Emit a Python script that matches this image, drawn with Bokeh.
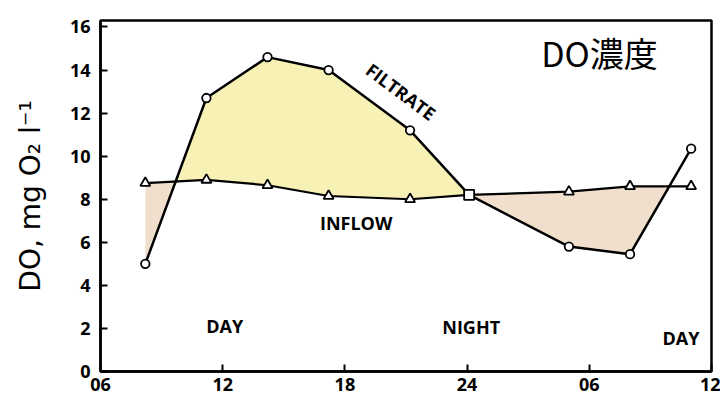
import numpy as np
from bokeh.plotting import figure
from bokeh.models import Range1d, FixedTicker, Label
from bokeh.embed import file_html
from bokeh.resources import INLINE

# ---- data ----
hours = [8.2, 11.2, 14.2, 17.2, 21.2, 24.1, 29.0, 32.0, 35.0]
filtrate = [5.0, 12.7, 14.6, 14.0, 11.2, 8.2, 5.8, 5.45, 10.35]
inflow = [8.75, 8.9, 8.65, 8.15, 8.0, 8.2, 8.35, 8.6, 8.6]
filtrate_markers = ["circle"] * 5 + ["square"] + ["circle"] * 3
inflow_markers = ["triangle"] * 5 + ["square"] + ["triangle"] * 3
junction = 5  # index where both curves meet (midnight)
x_tick_hours = [6, 12, 18, 24, 30, 36]
x_tick_labels = ["06", "12", "18", "24", "06", "12"]
y_ticks = [0, 2, 4, 6, 8, 10, 12, 14, 16]

FONT = "Open Sans"

p = figure(width=720, height=412, output_backend="svg", toolbar_location=None,
           x_range=Range1d(6, 36), y_range=Range1d(0, 16.3),
           min_border_left=100, min_border_right=9, min_border_top=20,
           min_border_bottom=41)
p.grid.visible = False
p.background_fill_color = "white"
p.border_fill_color = "white"
p.outline_line_color = "black"
p.outline_line_width = 2.5

# ---- fills between the curves ----
xs, yi, yf = [], [], []
for i in range(len(hours)):
    xs.append(hours[i]); yi.append(inflow[i]); yf.append(filtrate[i])
    if i < len(hours) - 1:
        d0 = filtrate[i] - inflow[i]
        d1 = filtrate[i + 1] - inflow[i + 1]
        if d0 * d1 < 0:
            t = d0 / (d0 - d1)
            xc = hours[i] + t * (hours[i + 1] - hours[i])
            yc = inflow[i] + t * (inflow[i + 1] - inflow[i])
            xs.append(xc); yi.append(yc); yf.append(yc)
xs = np.array(xs); yi = np.array(yi); yf = np.array(yf)
upper = np.where(xs <= hours[junction], np.maximum(yf, yi), yi)
p.varea(x=xs, y1=yi, y2=upper, fill_color="#f6f0ad", fill_alpha=0.9)
p.varea(x=xs, y1=np.minimum(yf, yi), y2=yi, fill_color="#efdcc8", fill_alpha=0.9)

# ---- lines and markers ----
p.line(hours, filtrate, line_color="black", line_width=2.5)
p.line(hours, inflow, line_color="black", line_width=2.2)
p.scatter(x=hours, y=filtrate, marker=filtrate_markers, size=8.5,
          fill_color="white", line_color="black", line_width=1.8)
p.scatter(x=hours, y=inflow, marker=inflow_markers, size=10,
          fill_color="white", line_color="black", line_width=1.8)

# ---- axes ----
xa = p.xaxis[0]
xa.ticker = FixedTicker(ticks=x_tick_hours)
xa.major_label_overrides = {h: l for h, l in zip(x_tick_hours, x_tick_labels)}
ya = p.yaxis[0]
ya.ticker = FixedTicker(ticks=y_ticks)
for ax in (xa, ya):
    ax.axis_line_color = "black"
    ax.axis_line_width = 2.5
    ax.major_tick_in = 7
    ax.major_tick_out = 0
    ax.major_tick_line_width = 2
    ax.major_tick_line_color = "black"
    ax.minor_tick_line_color = None
    ax.major_label_text_font = FONT
    ax.major_label_text_font_style = "bold"
    ax.major_label_text_font_size = "18px"
    ax.major_label_text_color = "black"
xa.major_label_standoff = 6
ya.major_label_standoff = 10
ya.axis_label = "DO, mg O\u2082 l\u207b\u00b9"
ya.axis_label_text_font = "DejaVu Sans"
ya.axis_label_text_font_style = "normal"
ya.axis_label_text_font_size = "28px"
ya.axis_label_text_color = "black"
ya.axis_label_standoff = 20

# ---- annotations ----
def lab(x, y, t, size="18px", style="bold", font=FONT, angle=0.0):
    p.add_layout(Label(x=x, y=y, text=t, text_font=font, text_font_size=size,
                       text_font_style=style, text_align="center",
                       text_baseline="middle", angle=angle, text_color="black"))

lab(12.1, 2.1, "DAY")
lab(24.2, 2.05, "NIGHT")
lab(34.5, 1.55, "DAY")
lab(18.55, 6.9, "INFLOW")
lab(20.75, 13.0, "FILTRATE", angle=-0.64)
lab(30.5, 14.8, "DO濃度", size="34px", style="normal", font="Noto Sans CJK JP")

open("out.html", "w").write(file_html(p, INLINE))
